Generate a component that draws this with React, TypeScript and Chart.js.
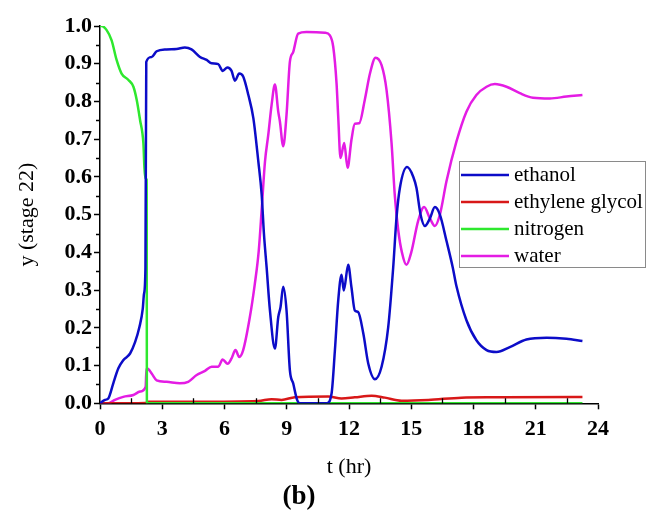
import React, { useEffect, useRef } from 'react';
import { Chart, registerables } from 'chart.js';

Chart.register(...registerables);

// ---------- data ----------
const SERIES_NAMES = ['ethanol', 'ethylene glycol', 'nitrogen', 'water'];
const SERIES_COLORS = ['#0c0cc8', '#d81818', '#2ee82e', '#e41ce4'];

const ethanolT = [0, 0.24, 0.40, 0.64, 0.88, 1.12, 1.45, 1.69, 1.90, 2.06, 2.12, 2.19, 2.23, 2.49, 2.73, 3.21, 3.69, 4.09, 4.41, 4.82, 5.14, 5.38, 5.70, 5.91, 6.14, 6.34, 6.50, 6.71, 6.90, 7.15, 7.39, 7.63, 7.79, 7.90, 8.03, 8.19, 8.43, 8.59, 8.70, 8.83, 8.99, 9.15, 9.31, 9.50, 9.63, 10.92, 11.16, 11.32, 11.48, 11.64, 11.75, 11.96, 12.12, 12.28, 12.44, 12.69, 12.93, 13.25, 13.57, 13.89, 14.13, 14.29, 14.45, 14.80, 15.10, 15.25, 15.45, 15.66, 15.90, 16.14, 16.38, 16.70, 17.00, 17.18, 17.66, 18.14, 18.63, 19.11, 19.75, 20.55, 21.52, 22.48, 23.25];
const ethanolY = [0, 0.009, 0.013, 0.053, 0.092, 0.114, 0.132, 0.162, 0.202, 0.250, 0.290, 0.360, 0.905, 0.918, 0.933, 0.938, 0.939, 0.943, 0.938, 0.918, 0.910, 0.901, 0.899, 0.881, 0.890, 0.881, 0.855, 0.874, 0.866, 0.817, 0.756, 0.641, 0.554, 0.450, 0.360, 0.246, 0.145, 0.228, 0.255, 0.309, 0.246, 0.088, 0.053, 0.009, 0.0, 0.0, 0.026, 0.140, 0.272, 0.341, 0.299, 0.367, 0.307, 0.246, 0.242, 0.185, 0.105, 0.064, 0.097, 0.202, 0.360, 0.492, 0.570, 0.626, 0.600, 0.571, 0.500, 0.470, 0.490, 0.520, 0.500, 0.430, 0.360, 0.310, 0.220, 0.167, 0.141, 0.136, 0.149, 0.169, 0.174, 0.171, 0.165];

const glycolT = [0, 2.2, 2.33, 4.58, 7.63, 8.27, 8.75, 9.39, 11.0, 11.64, 12.28, 13.09, 13.73, 14.53, 15.82, 17.42, 19.03, 22.88, 23.25];
const glycolY = [0, 0.001, 0.004, 0.004, 0.006, 0.011, 0.009, 0.016, 0.018, 0.013, 0.016, 0.020, 0.015, 0.007, 0.009, 0.015, 0.016, 0.017, 0.017];

const nitrogenT = [0, 0.08, 0.32, 0.56, 0.80, 1.04, 1.37, 1.61, 1.77, 1.93, 2.09, 2.17, 2.25, 2.26, 23.25];
const nitrogenY = [1.0, 1.0, 0.989, 0.962, 0.910, 0.874, 0.857, 0.839, 0.804, 0.751, 0.690, 0.597, 0.593, 0.0, 0.0];

const waterT = [0, 0.40, 0.72, 1.12, 1.61, 1.93, 2.20, 2.24, 2.28, 2.49, 2.73, 3.21, 3.85, 4.25, 4.66, 5.06, 5.38, 5.70, 5.91, 6.15, 6.34, 6.53, 6.71, 6.90, 7.22, 7.46, 7.65, 7.80, 7.95, 8.11, 8.27, 8.43, 8.59, 8.67, 8.83, 8.99, 9.15, 9.31, 9.55, 9.95, 10.84, 11.08, 11.24, 11.40, 11.48, 11.59, 11.77, 11.93, 12.12, 12.28, 12.49, 12.76, 13.01, 13.28, 13.57, 13.81, 14.05, 14.21, 14.37, 14.55, 14.77, 15.00, 15.33, 15.62, 15.90, 16.14, 16.38, 16.70, 17.18, 17.66, 18.14, 18.63, 19.03, 19.59, 20.23, 20.87, 21.68, 22.48, 23.25];
const waterY = [0, 0.0, 0.009, 0.017, 0.022, 0.031, 0.044, 0.092, 0.092, 0.079, 0.061, 0.057, 0.053, 0.057, 0.075, 0.086, 0.097, 0.097, 0.116, 0.105, 0.119, 0.141, 0.123, 0.141, 0.228, 0.316, 0.404, 0.520, 0.640, 0.712, 0.791, 0.845, 0.773, 0.747, 0.681, 0.765, 0.905, 0.931, 0.980, 0.984, 0.982, 0.975, 0.945, 0.848, 0.760, 0.650, 0.690, 0.624, 0.699, 0.741, 0.742, 0.804, 0.874, 0.916, 0.896, 0.830, 0.690, 0.549, 0.460, 0.400, 0.367, 0.400, 0.483, 0.520, 0.490, 0.470, 0.500, 0.589, 0.694, 0.773, 0.817, 0.839, 0.846, 0.839, 0.822, 0.810, 0.808, 0.813, 0.817];

const X_MINOR = [1.5, 4.5, 7.5, 10.5, 13.5, 16.5, 19.5, 22.5];
const Y_MINOR = [0.05, 0.15, 0.25, 0.35, 0.45, 0.55, 0.65, 0.75, 0.85, 0.95];

const X_TITLE = 't (hr)';
const Y_TITLE = 'y (stage 22)';
const FIG_LABEL = '(b)';

const SERIF = '"Liberation Serif", "Times New Roman", serif';

const zip = (t: number[], y: number[]) => t.map((v, i) => ({ x: v, y: y[i] }));

const decorPlugin = {
  id: 'decor',
  afterDraw(chart: any) {
    const { ctx, chartArea, scales } = chart;
    const xs = scales.x;
    const ys = scales.y;
    ctx.save();
    ctx.strokeStyle = '#000';
    ctx.lineWidth = 1.3;
    ctx.beginPath();
    for (const v of X_MINOR) {
      const px = Math.round(xs.getPixelForValue(v)) + 0.5;
      ctx.moveTo(px, chartArea.bottom);
      ctx.lineTo(px, chartArea.bottom - 5);
    }
    for (const v of Y_MINOR) {
      const py = Math.round(ys.getPixelForValue(v)) + 0.5;
      ctx.moveTo(chartArea.left, py);
      ctx.lineTo(chartArea.left - 4, py);
    }
    ctx.stroke();

    // legend
    const left = chartArea.right - 139;
    const top = chartArea.top + 135;
    const w = 186;
    const h = 106;
    ctx.fillStyle = '#fff';
    ctx.fillRect(left, top, w, h);
    ctx.strokeStyle = '#8a8a8a';
    ctx.lineWidth = 1;
    ctx.strokeRect(left + 0.5, top + 0.5, w, h);
    ctx.font = `21px ${SERIF}`;
    ctx.textBaseline = 'middle';
    ctx.textAlign = 'left';
    SERIES_NAMES.forEach((name, i) => {
      const yy = top + 14 + i * 27;
      ctx.strokeStyle = SERIES_COLORS[i];
      ctx.lineWidth = 2.5;
      ctx.beginPath();
      ctx.moveTo(left + 2, yy);
      ctx.lineTo(left + 50, yy);
      ctx.stroke();
      ctx.fillStyle = '#000';
      ctx.fillText(name, left + 55, yy);
    });
    ctx.restore();
  },
};

export default function App() {
  const ref = useRef<HTMLCanvasElement | null>(null);

  useEffect(() => {
    if (!ref.current) return;
    const seriesT = [ethanolT, glycolT, nitrogenT, waterT];
    const seriesY = [ethanolY, glycolY, nitrogenY, waterY];
    const orders = [1, 3, 2, 4];
    const chart = new Chart(ref.current, {
      type: 'line',
      data: {
        datasets: SERIES_NAMES.map((name, i) => ({
          label: name,
          data: zip(seriesT[i], seriesY[i]),
          borderColor: SERIES_COLORS[i],
          backgroundColor: SERIES_COLORS[i],
          borderWidth: 2.5,
          pointRadius: 0,
          cubicInterpolationMode: 'monotone' as const,
          fill: false,
          order: orders[i],
        })),
      },
      options: {
        responsive: false,
        animation: false,
        parsing: false,
        layout: { padding: { left: 0, top: 26, right: 54, bottom: 0 } },
        plugins: {
          legend: { display: false },
          tooltip: { enabled: false },
          title: {
            display: true,
            text: FIG_LABEL,
            position: 'bottom',
            color: '#000',
            font: { family: SERIF, size: 27, weight: 'bold' },
            padding: { top: 0, bottom: 0 },
          },
        },
        scales: {
          x: {
            type: 'linear',
            min: 0,
            max: 24,
            afterFit: (s: any) => { s.height = 77.3; },
            border: { color: '#000', width: 1.5 },
            grid: { drawOnChartArea: false, drawTicks: true, tickLength: 6, color: '#000', tickWidth: 1.5 },
            ticks: {
              stepSize: 3,
              color: '#000',
              padding: 7,
              maxRotation: 0,
              font: { family: SERIF, size: 22, weight: 'bold' },
            },
            title: {
              display: true,
              text: X_TITLE,
              color: '#000',
              font: { family: SERIF, size: 22 },
              padding: { top: 0, bottom: 0 },
            },
          },
          y: {
            type: 'linear',
            min: 0,
            max: 1,
            afterFit: (s: any) => { s.width = 100; },
            border: { color: '#000', width: 1.5 },
            grid: { drawOnChartArea: false, drawTicks: true, tickLength: 6, color: '#000', tickWidth: 1.5 },
            ticks: {
              stepSize: 0.1,
              color: '#000',
              padding: 2,
              font: { family: SERIF, size: 22, weight: 'bold' },
              callback: (v: any) => Number(v).toFixed(1),
            },
            title: {
              display: true,
              text: Y_TITLE,
              color: '#000',
              font: { family: SERIF, size: 22 },
              padding: { top: 14, bottom: 0 },
            },
          },
        },
      },
      plugins: [decorPlugin],
    });
    return () => chart.destroy();
  }, []);

  return (
    <div style={{ position: 'absolute', left: 0, top: 0, width: 652, height: 513, background: '#fff' }}>
      <canvas ref={ref} width={652} height={513} style={{ width: 652, height: 513, display: 'block' }} />
    </div>
  );
}
